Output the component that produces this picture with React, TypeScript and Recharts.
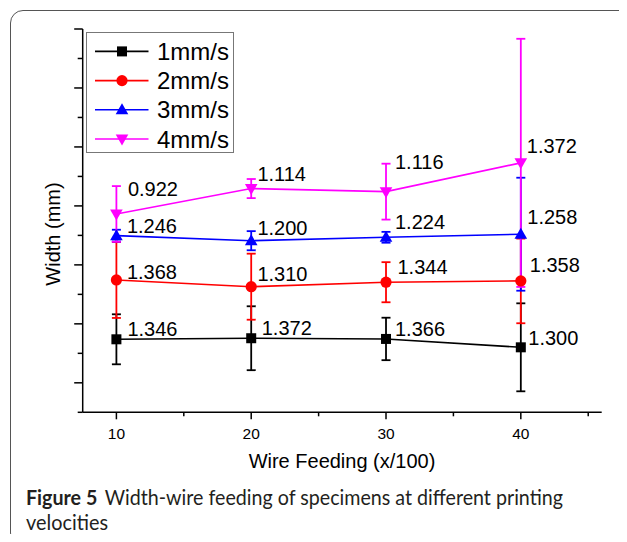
import React from "react";
import {
  LineChart,
  Line,
  XAxis,
  YAxis,
  ErrorBar,
  LabelList,
  Legend,
  Label,
} from "recharts";

const feeding = [10, 20, 30, 40];
const seriesNames = ["1mm/s", "2mm/s", "3mm/s", "4mm/s"];

// plotted positions (each series is drawn with a vertical offset in the original)
const width1 = [1.369, 1.378, 1.372, 1.301];
const width2 = [1.872, 1.815, 1.853, 1.864];
const width3 = [2.248, 2.205, 2.234, 2.26];
const width4 = [2.432, 2.647, 2.621, 2.865];

const err1 = [0.212, 0.271, 0.18, 0.373];
const err2 = [0.322, 0.28, 0.17, 0.359];
const err3 = [0.05, 0.081, 0.046, 0.479];
const err4 = [0.236, 0.081, 0.237, 1.052];

const labels1 = ["1.346", "1.372", "1.366", "1.300"];
const labels2 = ["1.368", "1.310", "1.344", "1.358"];
const labels3 = ["1.246", "1.200", "1.224", "1.258"];
const labels4 = ["0.922", "1.114", "1.116", "1.372"];

const xTicks = [10, 15, 20, 25, 30, 35, 40, 45];
const yTicks = [0.75, 1, 1.25, 1.5, 1.75, 2, 2.25, 2.5, 2.75, 3, 3.25, 3.5, 3.75, 4];

const rows = feeding.map((x, i) => ({
  x,
  w1: width1[i],
  w2: width2[i],
  w3: width3[i],
  w4: width4[i],
  e1: err1[i],
  e2: err2[i],
  e3: err3[i],
  e4: err4[i],
  l1: labels1[i],
  l2: labels2[i],
  l3: labels3[i],
  l4: labels4[i],
}));

const colors = ["#000000", "#ff0000", "#0000ff", "#ff00ff"];
const shapes = ["square", "circle", "up", "down"];

// where each value label sits relative to its point (dx, dy of text centre)
const labelShift = [
  [[11, -10], [10.5, -10.6], [9, -10], [7.5, -9]],
  [[10.5, -8.3], [6.2, -12.4], [11.5, -15.6], [9, -16]],
  [[10.5, -10], [6.2, -12.4], [9, -15.6], [6.5, -17.6]],
  [[11.5, -24.7], [6.2, -14.7], [9, -30], [6, -17.3]],
];

const FONT = "'Liberation Sans', Arial, sans-serif";
const CAPTION_FONT = "Lato, 'Open Sans', sans-serif";

function Marker({ cx, cy, shape, color }: any) {
  if (shape === "square") {
    return <rect x={cx - 5} y={cy - 5} width={10} height={10} fill={color} />;
  }
  if (shape === "circle") {
    return <circle cx={cx} cy={cy} r={5.6} fill={color} />;
  }
  if (shape === "up") {
    return (
      <polygon
        points={`${cx},${cy - 6.5} ${cx + 6.3},${cy + 4.5} ${cx - 6.3},${cy + 4.5}`}
        fill={color}
      />
    );
  }
  return (
    <polygon
      points={`${cx},${cy + 6.5} ${cx + 6.3},${cy - 4.5} ${cx - 6.3},${cy - 4.5}`}
      fill={color}
    />
  );
}

const renderDot = (s: number) => (p: any) =>
  <Marker key={`dot-${s}-${p.index}`} cx={p.cx} cy={p.cy} shape={shapes[s]} color={colors[s]} />;

const renderValue = (s: number) => (p: any) => {
  const idx = p.index ?? 0;
  const [dx, dy] = labelShift[s][idx];
  return (
    <text
      x={p.x + dx}
      y={p.y + dy}
      dominantBaseline="central"
      fontFamily={FONT}
      fontSize={20}
      fill="#000"
    >
      {p.value}
    </text>
  );
};

function XTick({ x, y, payload }: any) {
  const major = payload.value % 10 === 0;
  return (
    <g>
      <line x1={x} x2={x} y1={y} y2={y + (major ? 7 : 4)} stroke="#000" strokeWidth={1.5} />
      {major && (
        <text x={x} y={y + 27} textAnchor="middle" fontFamily={FONT} fontSize={15.5} fill="#000">
          {payload.value}
        </text>
      )}
    </g>
  );
}

function YTick({ x, y, payload }: any) {
  const major = Math.abs(payload.value * 2 - Math.round(payload.value * 2)) < 1e-6;
  return <line x1={x} x2={x - (major ? 8.5 : 5)} y1={y} y2={y} stroke="#000" strokeWidth={1.5} />;
}

function LegendBox() {
  return (
    <svg width={148} height={121} style={{ display: "block" }}>
      <rect x={0.5} y={0.5} width={147} height={120} fill="#fff" stroke="#777" strokeWidth={1} />
      {seriesNames.map((name, i) => {
        const cy = 19.4 + i * 29.2;
        return (
          <g key={name}>
            <line x1={9} x2={62.5} y1={cy} y2={cy} stroke={colors[i]} strokeWidth={1.6} />
            <Marker cx={36} cy={cy} shape={shapes[i]} color={colors[i]} />
            <text x={71} y={cy} dominantBaseline="central" fontFamily={FONT} fontSize={24} fill="#000">
              {name}
            </text>
          </g>
        );
      })}
    </svg>
  );
}

export default function App() {
  return (
    <div
      style={{
        position: "relative",
        width: 627,
        height: 542,
        margin: -8,
        overflow: "hidden",
        background: "#fff",
      }}
    >
      <div
        style={{
          position: "absolute",
          left: 10,
          top: 10,
          width: 640,
          height: 536,
          border: "1.5px solid #555",
          borderRadius: 13,
          boxSizing: "border-box",
        }}
      />
      <div style={{ position: "absolute", left: 0, top: 0 }}>
        <LineChart
          width={627}
          height={542}
          data={rows}
          margin={{ top: 29, right: 25.3, bottom: 99.7, left: 0 }}
        >
          <XAxis
            dataKey="x"
            type="number"
            domain={[7.5, 46]}
            ticks={xTicks}
            interval={0}
            allowDataOverflow
            height={30}
            tickSize={0}
            tickMargin={0}
            tickLine={false}
            tick={<XTick />}
            axisLine={{ stroke: "#000", strokeWidth: 1.5 }}
          >
            <Label
              content={() => (
                <text x={342} y={468} textAnchor="middle" fontFamily={FONT} fontSize={20} fill="#000">
                  Wire Feeding (x/100)
                </text>
              )}
            />
          </XAxis>
          <XAxis
            xAxisId="top"
            orientation="top"
            type="number"
            domain={[7.5, 46]}
            height={0}
            tick={false}
            tickLine={false}
            axisLine={{ stroke: "#000", strokeWidth: 1.5 }}
          />
          <YAxis
            type="number"
            domain={[0.75, 4]}
            ticks={yTicks}
            interval={0}
            allowDataOverflow
            width={82.7}
            tickSize={0}
            tickMargin={0}
            tickLine={false}
            tick={<YTick />}
            axisLine={{ stroke: "#000", strokeWidth: 1.5 }}
          >
            <Label
              content={() => (
                <text
                  x={52.5}
                  y={234}
                  transform="rotate(-90 52.5 234)"
                  textAnchor="middle"
                  dominantBaseline="central"
                  fontFamily={FONT}
                  fontSize={20}
                  fill="#000"
                >
                  Width (mm)
                </text>
              )}
            />
          </YAxis>
          <YAxis
            yAxisId="right"
            orientation="right"
            type="number"
            domain={[0.75, 4]}
            width={0}
            tick={false}
            tickLine={false}
            axisLine={{ stroke: "#000", strokeWidth: 1.5 }}
          />
          <Legend
            layout="vertical"
            align="center"
            verticalAlign="middle"
            wrapperStyle={{ left: 85.7, top: 32.3, width: 148, height: 121 }}
            content={() => <LegendBox />}
          />
          {[1, 2, 3, 4].map((n, s) => (
            <Line
              key={n}
              type="linear"
              dataKey={`w${n}`}
              name={seriesNames[s]}
              stroke={colors[s]}
              strokeWidth={1.6}
              dot={renderDot(s)}
              activeDot={false}
              isAnimationActive={false}
            >
              <ErrorBar
                dataKey={`e${n}`}
                direction="y"
                width={4.5}
                stroke={colors[s]}
                strokeWidth={1.8}
                isAnimationActive={false}
              />
              <LabelList dataKey={`l${n}`} content={renderValue(s)} />
            </Line>
          ))}
        </LineChart>
      </div>
      <svg
        width={627}
        height={542}
        style={{ position: "absolute", left: 0, top: 0, pointerEvents: "none" }}
      >
        <text
          x={26}
          y={505}
          fontFamily={CAPTION_FONT}
          fontSize={21}
          fill="#231f20"
          textLength={537}
          lengthAdjust="spacingAndGlyphs"
        >
          <tspan fontWeight="bold">Figure 5</tspan>
          <tspan dx={8}>Width-wire feeding of specimens at different printing</tspan>
        </text>
        <text
          x={26}
          y={530}
          fontFamily={CAPTION_FONT}
          fontSize={21}
          fill="#231f20"
          textLength={82}
          lengthAdjust="spacingAndGlyphs"
        >
          velocities
        </text>
      </svg>
    </div>
  );
}
